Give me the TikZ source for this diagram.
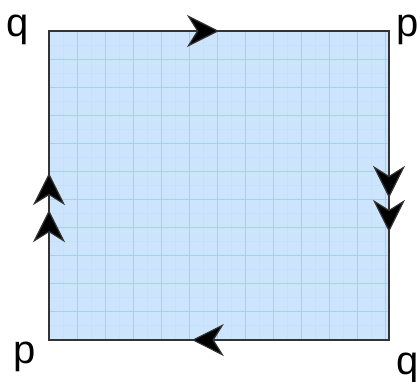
\documentclass[tikz,border=0pt]{standalone}
\usepackage{fontspec}
\setmainfont{Liberation Sans}
\usetikzlibrary{arrows.meta,calc}
\definecolor{sheetfill}{RGB}{204,228,252}
\definecolor{gridmajor}{RGB}{164,206,252}
\definecolor{gridminor}{RGB}{198,224,252}
\tikzset{
    sheet/.style={
        draw=black!80,
        fill=sheetfill,
        line width=1.2pt
    },
    vertex/.style={
        inner sep=0pt,
        anchor=base west,
        font=\fontsize{40}{40}\selectfont
    },
    glue/.style={
        draw=black!80,
        line width=1.2pt,
        -{Stealth[length=32pt,width=32pt,inset=10pt,fill=black]}
    }
}

\begin{document}
\begin{tikzpicture}[x=1pt,y=-1pt]
        \useasboundingbox (0,0) rectangle (417,381);

        \coordinate (nw) at (49,31);
        \coordinate (ne) at (389,31);
        \coordinate (sw) at (49,340);
        \coordinate (se) at (389,340);

        \path[sheet] (nw) rectangle (se);
        \begin{scope}
            \clip (nw) rectangle (se);
            \draw[gridminor, line width=0.4pt, step=14pt, yshift=-3pt, xshift=7pt] (nw) grid (se);
            \draw[gridmajor, line width=0.9pt, step=28pt, yshift=-3pt, xshift=-7pt] (35,3) grid (417,381);
        \end{scope}
        \draw[black!80, line width=1.2pt] (nw) rectangle (se);

        \node[vertex] (qtop) at (6,36) {q};
        \node[vertex] (ptop) at (396,36) {p};
        \node[vertex] (pbot) at (13,363) {p};
        \node[vertex] (qbot) at (396,374) {q};

        % edge arrows
        \draw[glue] ($(nw)!0.42!(ne)$) -- ($(nw)!0.50!(ne)$);
        \draw[glue] ($(se)!0.49!(sw)$) -- ($(se)!0.58!(sw)$);
        \draw[glue] ($(sw)!0.48!(nw)$) -- ($(sw)!0.54!(nw)$);
        \draw[glue] ($(sw)!0.36!(nw)$) -- ($(sw)!0.42!(nw)$);
        \draw[glue] ($(ne)!0.48!(se)$) -- ($(ne)!0.54!(se)$);
        \draw[glue] ($(ne)!0.59!(se)$) -- ($(ne)!0.65!(se)$);
\end{tikzpicture}
\end{document}
